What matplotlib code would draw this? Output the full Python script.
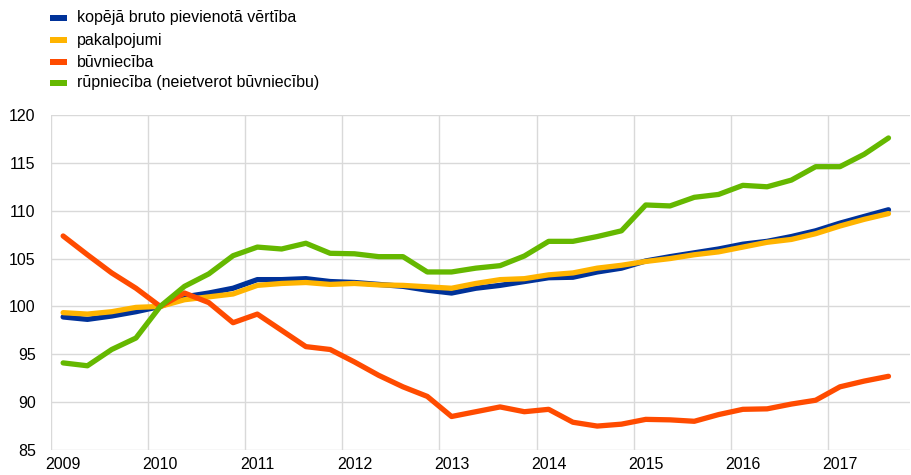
import numpy as np
import matplotlib
matplotlib.use("Agg")
import matplotlib.pyplot as plt
from matplotlib.patches import Rectangle

plt.rcParams['font.family'] = ['Liberation Sans', 'DejaVu Sans']

# quarterly data 2009Q1 .. 2017Q3
start_year = 2009
n_quarters = 35

labels = ["kopējā bruto pievienotā vērtība", "pakalpojumi", "būvniecība",
          "rūpniecība (neietverot būvniecību)"]
colors = ["#003299", "#ffb400", "#ff4b00", "#65b800"]

gva = [98.9, 98.65, 99.0, 99.45, 100.0, 101.0, 101.4, 101.9,
       102.8, 102.8, 102.9, 102.6, 102.5, 102.3, 102.1, 101.7,
       101.4, 101.9, 102.2, 102.6, 103.0, 103.05, 103.6, 104.0,
       104.75, 105.2, 105.6, 106.0, 106.5, 106.8, 107.3, 107.9,
       108.7, 109.4, 110.1]
services = [99.35, 99.2, 99.45, 99.9, 100.0, 100.7, 101.0, 101.3,
            102.2, 102.4, 102.5, 102.3, 102.4, 102.25, 102.2, 102.05,
            101.9, 102.4, 102.8, 102.9, 103.3, 103.5, 104.0, 104.3,
            104.7, 105.0, 105.4, 105.7, 106.2, 106.7, 107.0, 107.6,
            108.4, 109.1, 109.7]
construction = [107.36, 105.4, 103.5, 101.9, 100.0, 101.4, 100.4, 98.3,
                99.2, 97.5, 95.8, 95.5, 94.2, 92.8, 91.6, 90.6,
                88.5, 89.0, 89.5, 89.0, 89.25, 87.9, 87.5, 87.7,
                88.2, 88.15, 88.0, 88.7, 89.25, 89.3, 89.8, 90.2,
                91.6, 92.2, 92.7]
industry = [94.1, 93.8, 95.5, 96.7, 100.0, 102.1, 103.4, 105.3,
            106.2, 106.0, 106.6, 105.55, 105.5, 105.2, 105.2, 103.6,
            103.6, 104.0, 104.26, 105.27, 106.8, 106.8, 107.3, 107.9,
            110.6, 110.5, 111.4, 111.7, 112.65, 112.5, 113.2, 114.6,
            114.6, 115.9, 117.6]

years = list(range(2009, 2018))
yticks = [85, 90, 95, 100, 105, 110, 115, 120]

x = start_year + (np.arange(n_quarters) + 0.5) / 4.0

fig = plt.figure(figsize=(9.12, 4.75), dpi=100)
ax = fig.add_axes([51 / 912, 1 - 450 / 475, (910 - 51) / 912, (450 - 115) / 475])

series = [gva, services, construction, industry]
for s, c in zip(series, colors):
    ax.plot(x, s, color=c, lw=3.8, solid_joinstyle='round', solid_capstyle='round', zorder=3)

ax.set_xlim(2009, 2009 + (910 - 51) / 97.1)
ax.set_ylim(85, 120)
ax.set_yticks(yticks)
ax.set_yticklabels([str(v) for v in yticks])
ax.set_xticks([yy for yy in years], minor=True)
ax.set_xticks([yy + 0.125 for yy in years])
ax.set_xticklabels([str(yy) for yy in years])
ax.grid(False)
ax.grid(True, which='minor', axis='x', color='#d9d9d9', lw=1.0)
ax.grid(True, which='major', axis='y', color='#d9d9d9', lw=1.0)
ax.tick_params(axis='both', which='both', length=0, labelsize=11.5, colors='#000000')
ax.tick_params(axis='x', pad=5)
ax.tick_params(axis='y', pad=11)
for sp in ax.spines.values():
    sp.set_visible(False)
ax.set_axisbelow(True)

# legend
row_y = [17.8, 40.0, 62.3, 82.7]
for lab, c, yy in zip(labels, colors, row_y):
    fig.add_artist(Rectangle((50 / 912, 1 - (yy + 3) / 475), 17 / 912, 6 / 475,
                             transform=fig.transFigure, color=c, lw=0))
    fig.text(77 / 912, 1 - yy / 475, lab, fontsize=11.5, va='center', ha='left', color='#000000')

fig.savefig("out.png", dpi=100)
